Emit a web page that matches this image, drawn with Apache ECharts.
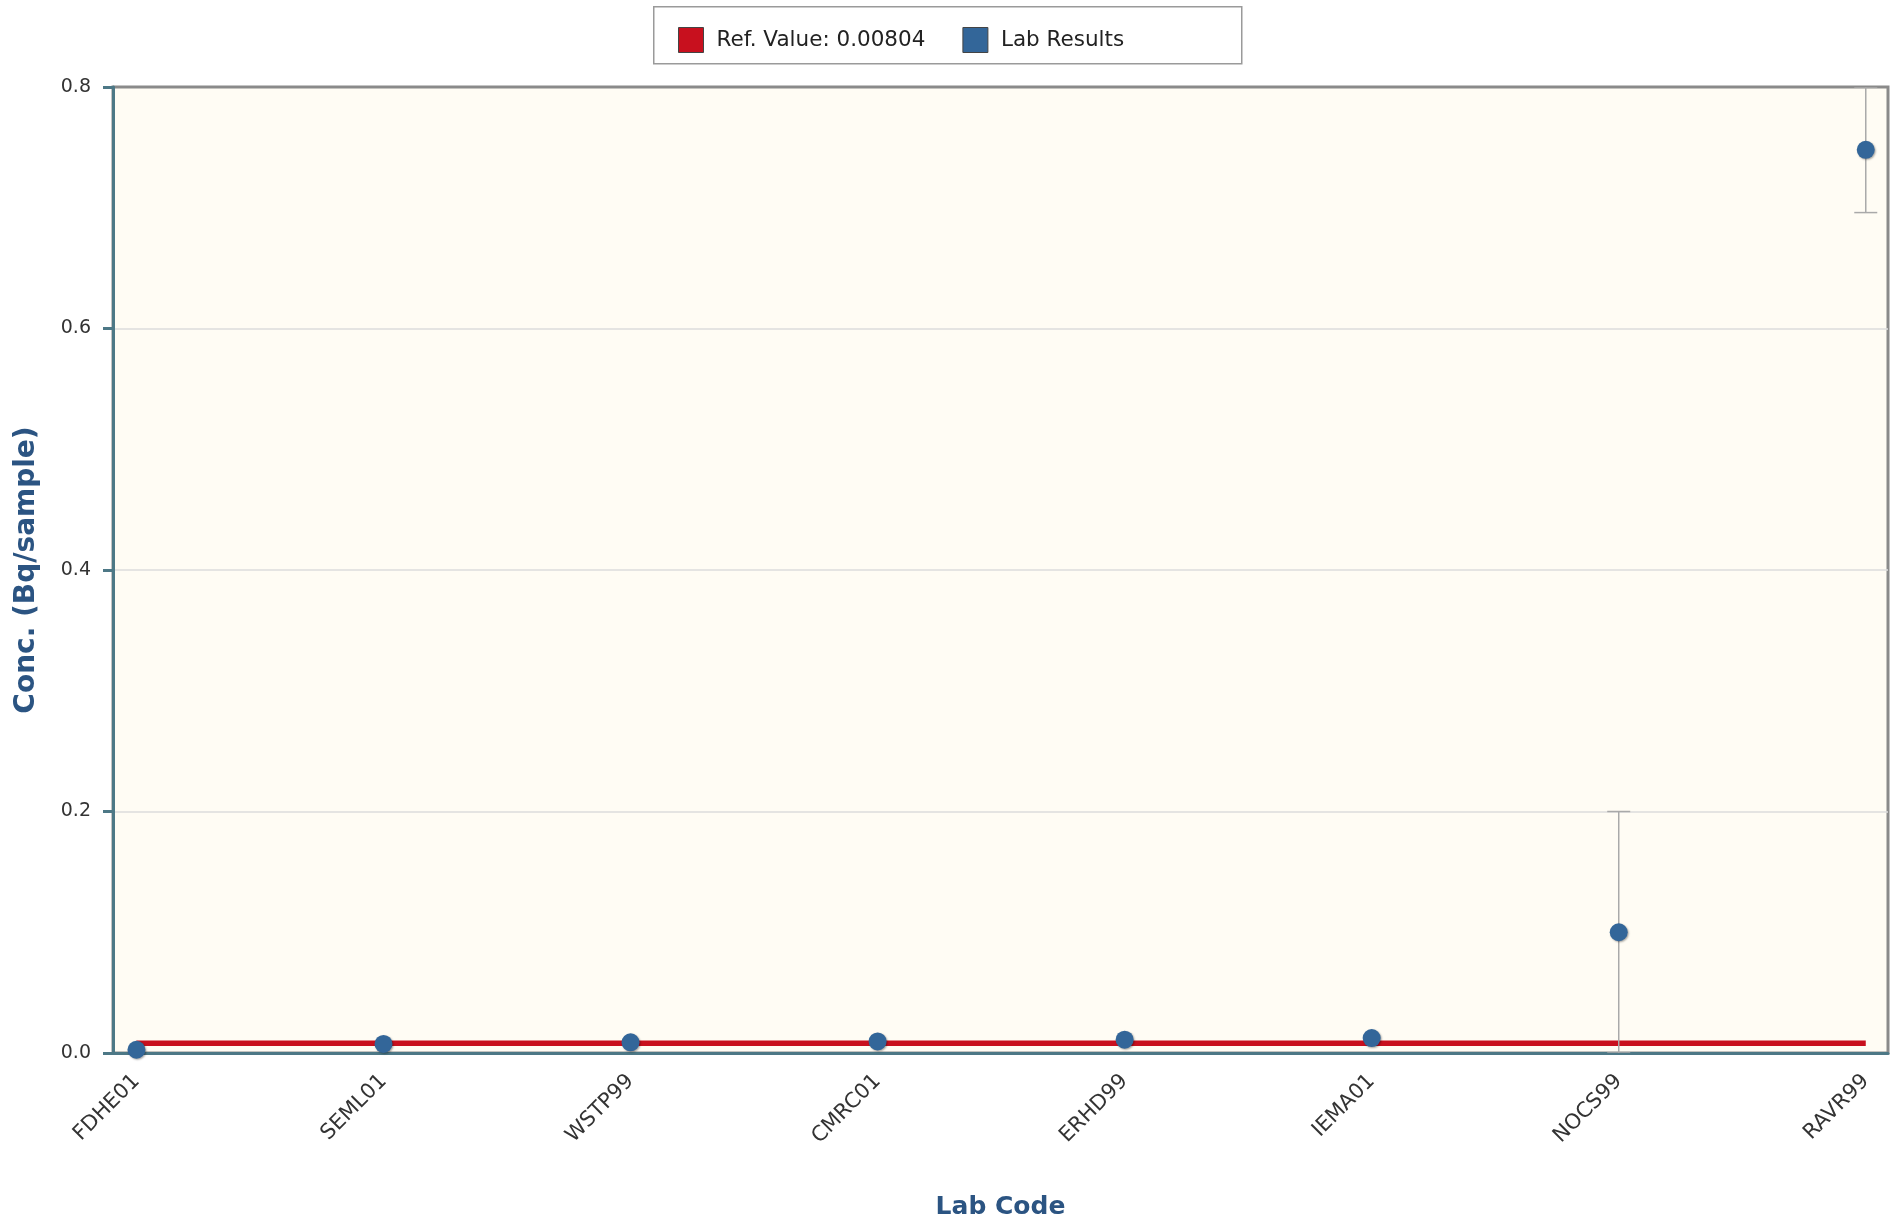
<!DOCTYPE html>
<html>
<head>
<meta charset="utf-8">
<script src="https://cdn.jsdelivr.net/npm/echarts@6/dist/echarts.min.js"></script>
<style>
  html, body { margin: 0; padding: 0; background: #ffffff; }
  #chart { width: 1896px; height: 1222px; }
</style>
</head>
<body>
<div id="chart"></div>
<script>
// Lab codes along the x axis
const labCodes = ['FDHE01', 'SEML01', 'WSTP99', 'CMRC01', 'ERHD99', 'IEMA01', 'NOCS99', 'RAVR99'];
// Reported concentrations (Bq/sample)
const labValues = [0.0027, 0.0075, 0.0088, 0.0096, 0.011, 0.0124, 0.1, 0.748];
// Reported uncertainties (null = none given)
const labUncert = [null, null, null, null, null, null, 0.1, 0.052];
// Reference value
const refValue = 0.00804;
const yTicks = [0, 0.2, 0.4, 0.6, 0.8];

const FONT = 'DejaVu Sans';
const AXIS_COLOR = '#4d7886';
const TITLE_COLOR = '#2b5482';

const points = labValues.map((v, i) => [i, v]);
const errBars = labValues.map((v, i) => labUncert[i] == null ? null : [i, v - labUncert[i], v + labUncert[i]]).filter(d => d);
const refLine = [[0, refValue], [labCodes.length - 1, refValue]];

const chart = echarts.init(document.getElementById('chart'), null, { renderer: 'canvas' });

chart.setOption({
  animation: false,
  backgroundColor: '#ffffff',
  graphic: [{
    type: 'rect',
    left: 653, top: 6,
    shape: { width: 588, height: 57 },
    style: { fill: '#ffffff', stroke: '#9a9a9a', lineWidth: 1.5 },
    z: 0
  }],
  legend: {
    left: 673, top: 22,
    itemWidth: 25, itemHeight: 25, itemGap: 37,
    textStyle: { fontFamily: FONT, fontSize: 21.5, color: '#222', padding: [0, 0, 0, 8] },
    data: [
      { name: 'Ref. Value: 0.00804', icon: 'rect', itemStyle: { color: '#c8101e', borderColor: '#444', borderWidth: 1, opacity: 1 } },
      { name: 'Lab Results', icon: 'rect', itemStyle: { color: '#336699', borderColor: '#444', borderWidth: 1, opacity: 1 } }
    ],
    z: 5
  },
  grid: {
    left: 113, right: 8, top: 87, bottom: 169,
    outerBoundsMode: 'none',
    containLabel: false,
    show: true,
    backgroundColor: '#fffcf4',
    borderColor: '#8a8a8a',
    borderWidth: 3
  },
  xAxis: {
    type: 'value',
    min: -0.095, max: 7.09,
    name: 'Lab Code',
    nameLocation: 'middle',
    nameGap: 142,
    nameTextStyle: { fontFamily: FONT, fontWeight: 'bold', fontSize: 25, color: TITLE_COLOR },
    axisLine: { show: true, onZero: false, lineStyle: { color: AXIS_COLOR, width: 3 } },
    axisTick: { show: false },
    splitLine: { show: false },
    axisLabel: {
      customValues: labCodes.map((_, i) => i),
      formatter: v => labCodes[Math.round(v)] || '',
      rotate: 45,
      margin: 25,
      fontFamily: FONT, fontSize: 21, color: '#333'
    }
  },
  yAxis: {
    type: 'value',
    min: yTicks[0], max: yTicks[yTicks.length - 1], interval: 0.2,
    name: 'Conc. (Bq/sample)',
    nameLocation: 'middle',
    nameGap: 72,
    nameTextStyle: { fontFamily: FONT, fontWeight: 'bold', fontSize: 28, color: TITLE_COLOR },
    axisLine: { show: true, onZero: false, lineStyle: { color: AXIS_COLOR, width: 3 } },
    axisTick: { show: true, length: 10, lineStyle: { color: AXIS_COLOR, width: 3 } },
    splitLine: { show: true, showMinLine: false, showMaxLine: false, lineStyle: { color: '#dcdcdc', width: 1.5 } },
    axisLabel: {
      margin: 22,
      fontFamily: FONT, fontSize: 19, color: '#333',
      formatter: v => v.toFixed(1)
    }
  },
  series: [
    {
      name: 'Ref. Value: 0.00804',
      type: 'line',
      data: refLine,
      symbol: 'none',
      lineStyle: { color: '#c8101e', width: 5.5 },
      itemStyle: { color: '#c8101e' },
      z: 2
    },
    {
      name: 'error',
      type: 'custom',
      clip: true,
      data: errBars,
      renderItem: (params, api) => {
        const x = api.value(0);
        const lo = api.coord([x, api.value(1)]);
        const hi = api.coord([x, api.value(2)]);
        const half = 11.5;
        const style = { stroke: '#a9a9a9', lineWidth: 1.5 };
        return {
          type: 'group',
          children: [
            { type: 'line', shape: { x1: lo[0], y1: lo[1], x2: hi[0], y2: hi[1] }, style },
            { type: 'line', shape: { x1: lo[0] - half, y1: lo[1], x2: lo[0] + half, y2: lo[1] }, style },
            { type: 'line', shape: { x1: hi[0] - half, y1: hi[1], x2: hi[0] + half, y2: hi[1] }, style }
          ]
        };
      },
      z: 3
    },
    {
      name: 'Lab Results',
      type: 'scatter',
      data: points,
      symbol: 'circle',
      symbolSize: 18,
      itemStyle: {
        color: '#336699',
        opacity: 1,
        shadowColor: 'rgba(0,0,0,0.35)',
        shadowBlur: 2,
        shadowOffsetX: 1,
        shadowOffsetY: 1
      },
      z: 4
    }
  ]
});
</script>
</body>
</html>
